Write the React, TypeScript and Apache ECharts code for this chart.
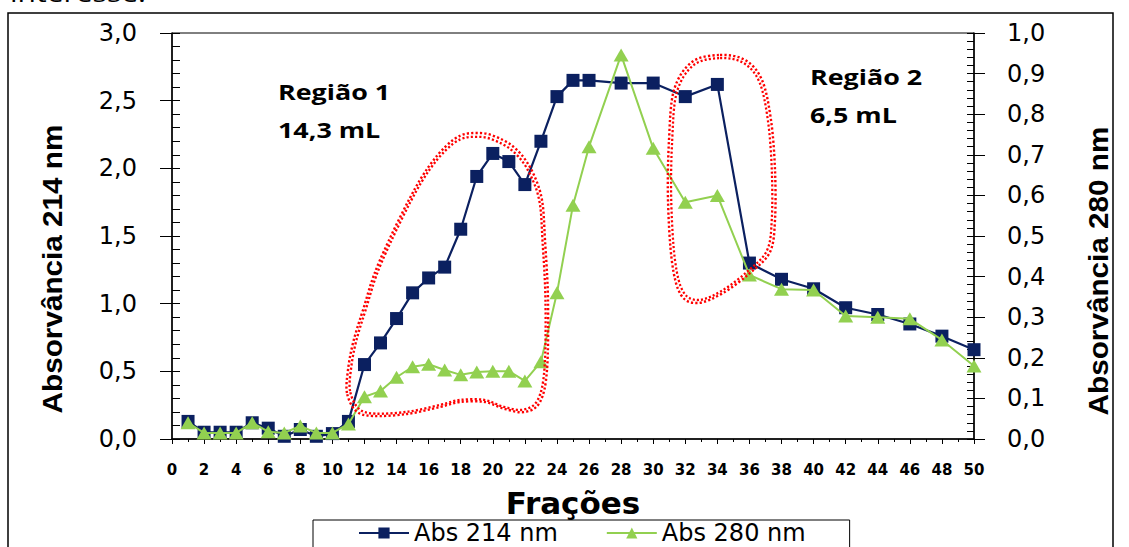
import React, { useEffect, useRef } from "react";
import * as echarts from "echarts";

// ---------- data ----------
const fractions = [
  1, 2, 3, 4, 5, 6, 7, 8, 9, 10, 11, 12, 13, 14, 15, 16, 17, 18, 19, 20, 21, 22, 23, 24, 25, 26,
  28, 30, 32, 34, 36, 38, 40, 42, 44, 46, 48, 50,
];
const abs214 = [
  0.13, 0.05, 0.05, 0.05, 0.12, 0.08, 0.02, 0.07, 0.02, 0.04, 0.13, 0.55, 0.71, 0.89, 1.08, 1.19,
  1.27, 1.55, 1.94, 2.11, 2.05, 1.88, 2.2, 2.53, 2.65, 2.65, 2.63, 2.63, 2.53, 2.62, 1.3, 1.18,
  1.11, 0.97, 0.92, 0.85, 0.76, 0.66,
];
const abs280 = [
  0.04, 0.015, 0.015, 0.015, 0.04, 0.018, 0.015, 0.032, 0.015, 0.015, 0.037, 0.104, 0.118, 0.152,
  0.178, 0.184, 0.17, 0.158, 0.165, 0.167, 0.167, 0.143, 0.19, 0.36, 0.576, 0.72, 0.946, 0.716,
  0.583, 0.6, 0.404, 0.369, 0.367, 0.303, 0.3, 0.296, 0.244, 0.18,
];
const seriesNames = ["Abs 214 nm", "Abs 280 nm"];
const leftTicks = { min: 0, max: 3, interval: 0.5 };
const rightTicks = { min: 0, max: 1, interval: 0.1 };
const xTicks = { min: 0, max: 50, interval: 2 };

// ---------- annotation outlines (pixel space) ----------
const region1Outline: [number, number][] = [
  [347, 393], [348, 370], [353, 343], [363, 310], [380, 260], [420, 180], [453, 140], [480, 133],
  [503, 140], [520, 153], [533, 173], [542, 200], [545, 240], [548, 300], [547, 370], [540, 402],
  [525, 412], [505, 409], [485, 402], [460, 402], [440, 407], [407, 414], [373, 416], [356, 411],
];
const region2Outline: [number, number][] = [
  [720, 55], [745, 60], [762, 80], [771, 120], [775, 170], [775, 220], [770, 252], [750, 273],
  [723, 293], [698, 303], [681, 295], [672, 262], [668, 200], [669, 140], [674, 90], [692, 62],
];

function centroid(pts: [number, number][]) {
  let sx = 0, sy = 0;
  pts.forEach(([x, y]) => { sx += x; sy += y; });
  return [sx / pts.length, sy / pts.length];
}

function closedSpline(pts: [number, number][], cx: number, cy: number) {
  const n = pts.length;
  const p = pts.map(([x, y]) => [x - cx, y - cy]);
  let d = `M${p[0][0].toFixed(2)},${p[0][1].toFixed(2)}`;
  for (let i = 0; i < n; i++) {
    const p0 = p[(i - 1 + n) % n], p1 = p[i], p2 = p[(i + 1) % n], p3 = p[(i + 2) % n];
    const c1 = [p1[0] + (p2[0] - p0[0]) / 6, p1[1] + (p2[1] - p0[1]) / 6];
    const c2 = [p2[0] - (p3[0] - p1[0]) / 6, p2[1] - (p3[1] - p1[1]) / 6];
    d += ` C${c1[0].toFixed(2)},${c1[1].toFixed(2)} ${c2[0].toFixed(2)},${c2[1].toFixed(2)} ${p2[0].toFixed(2)},${p2[1].toFixed(2)}`;
  }
  return d + " Z";
}

const c1 = centroid(region1Outline);
const c2 = centroid(region2Outline);
let registered = false;
function registerShapes() {
  if (registered) return;
  registered = true;
  echarts.graphic.registerShape(
    "regionOne",
    echarts.graphic.extendPath(closedSpline(region1Outline, c1[0], c1[1]), {})
  );
  echarts.graphic.registerShape(
    "regionTwo",
    echarts.graphic.extendPath(closedSpline(region2Outline, c2[0], c2[1]), {})
  );
}

const commaFmt = (v: number) => v.toFixed(1).replace(".", ",");

export default function App() {
  const ref = useRef<HTMLDivElement>(null);
  useEffect(() => {
    if (!ref.current) return;
    registerShapes();
    const chart = echarts.init(ref.current, null, { renderer: "svg" });
    const dotted = {
      fill: "none",
      stroke: "#ff0000",
      lineWidth: 2.4,
      lineDash: [2.2, 2.2],
    };
    const wide = "DejaVu Sans";
    const arial = "Liberation Sans";
    const regionText = (text: string, x: number, y: number) => ({
      type: "text",
      x,
      y,
      scaleX: 1.28,
      style: {
        text,
        fontFamily: "Open Sans",
        fontWeight: "bold",
        fontSize: 21,
        fill: "#000",
        align: "left",
        verticalAlign: "middle",
      },
      z: 10,
    });
    const sideTitle = (text: string, x: number, y: number) => ({
      type: "text",
      x,
      y,
      rotation: Math.PI / 2,
      scaleX: 1.1,
      style: {
        text,
        fontFamily: arial,
        fontWeight: "bold",
        fontSize: 27,
        fill: "#000",
        align: "center",
        verticalAlign: "middle",
      },
      z: 10,
    });
    chart.setOption({
      animation: false,
      backgroundColor: "#ffffff",
      grid: {
        left: 172,
        right: 155,
        top: 33,
        bottom: 108,
        show: true,
        borderColor: "#000",
        borderWidth: 1,
      },
      legend: {
        data: seriesNames,
        left: 313,
        top: 520,
        orient: "horizontal",
        itemWidth: 50,
        itemHeight: 14,
        itemGap: 48,
        borderColor: "#000",
        borderWidth: 1,
        padding: [1, 44, 20, 45],
        textStyle: { fontFamily: wide, fontSize: 24, color: "#000" },
      },
      xAxis: {
        type: "value",
        min: xTicks.min,
        max: xTicks.max,
        interval: xTicks.interval,
        axisLine: { lineStyle: { color: "#000", width: 1.5 } },
        axisTick: { show: true, length: 5, lineStyle: { color: "#000" } },
        minorTick: { show: true, splitNumber: 2, length: 3, lineStyle: { color: "#000" } },
        splitLine: { show: false },
        axisLabel: {
          margin: 23,
          fontFamily: wide,
          fontWeight: "bold",
          fontSize: 15,
          color: "#000",
        },
      },
      yAxis: [
        {
          type: "value",
          position: "left",
          min: leftTicks.min,
          max: leftTicks.max,
          interval: leftTicks.interval,
          axisLine: { show: true, lineStyle: { color: "#000", width: 1.5 } },
          axisTick: { show: true, length: 12, lineStyle: { color: "#000" } },
          splitLine: { show: false },
          axisLabel: {
            margin: 35,
            formatter: commaFmt,
            fontFamily: wide,
            fontSize: 24,
            color: "#000",
          },
        },
        {
          type: "value",
          position: "right",
          min: rightTicks.min,
          max: rightTicks.max,
          interval: rightTicks.interval,
          axisLine: { show: true, lineStyle: { color: "#000", width: 1.5 } },
          axisTick: { show: true, length: 11, lineStyle: { color: "#000" } },
          splitLine: { show: false },
          axisLabel: {
            margin: 33,
            formatter: commaFmt,
            fontFamily: wide,
            fontSize: 24,
            color: "#000",
          },
        },
        {
          type: "value",
          position: "left",
          min: 0,
          max: 3,
          interval: 0.1,
          axisLine: { show: false },
          axisTick: { show: true, inside: true, length: 8, lineStyle: { color: "#000" } },
          axisLabel: { show: false },
          splitLine: { show: false },
        },
        {
          type: "value",
          position: "right",
          min: 0,
          max: 1,
          interval: 0.02,
          axisLine: { show: false },
          axisTick: { show: true, inside: true, length: 7, lineStyle: { color: "#000" } },
          axisLabel: { show: false },
          splitLine: { show: false },
        },
      ],
      series: [
        {
          name: seriesNames[0],
          type: "line",
          yAxisIndex: 0,
          data: fractions.map((f, i) => [f, abs214[i]]),
          symbol: "rect",
          symbolSize: 13,
          itemStyle: { color: "#0b2060" },
          lineStyle: { color: "#0b2060", width: 2.2 },
          z: 3,
        },
        {
          name: seriesNames[1],
          type: "line",
          yAxisIndex: 1,
          data: fractions.map((f, i) => [f, abs280[i]]),
          symbol: "triangle",
          symbolSize: [15, 13],
          itemStyle: { color: "#92d050" },
          lineStyle: { color: "#92d050", width: 2 },
          z: 4,
        },
      ],
      graphic: [
        {
          type: "rect",
          shape: { x: 8, y: 13, width: 1105, height: 560 },
          style: { fill: "none", stroke: "#000", lineWidth: 1.5 },
          z: 1,
          silent: true,
        },
        {
          type: "text",
          x: 10,
          y: -19,
          scaleX: 1.25,
          style: { text: "interesse.", fontFamily: "Open Sans", fontSize: 24, fill: "#000" },
          z: 1,
        },
        sideTitle("Absorvância 214 nm", 52, 269),
        sideTitle("Absorvância 280 nm", 1098, 271),
        {
          type: "text",
          x: 573,
          y: 503,
          style: {
            text: "Frações",
            fontFamily: wide,
            fontWeight: "bold",
            fontSize: 31,
            fill: "#000",
            align: "center",
            verticalAlign: "middle",
          },
          z: 10,
        },
        regionText("Região 1", 278, 92),
        regionText("14,3 mL", 278, 130),
        regionText("Região 2", 810, 77),
        regionText("6,5 mL", 810, 115),
        { type: "regionOne", x: c1[0], y: c1[1], style: dotted, z: 100, silent: true },
        {
          type: "regionOne",
          x: c1[0],
          y: c1[1],
          scaleX: 0.972,
          scaleY: 0.978,
          style: dotted,
          z: 100,
          silent: true,
        },
        { type: "regionTwo", x: c2[0], y: c2[1], style: dotted, z: 100, silent: true },
        {
          type: "regionTwo",
          x: c2[0],
          y: c2[1],
          scaleX: 0.94,
          scaleY: 0.975,
          style: dotted,
          z: 100,
          silent: true,
        },
      ],
    });
    return () => chart.dispose();
  }, []);
  return (
    <div
      ref={ref}
      style={{ position: "fixed", left: 0, top: 0, width: 1129, height: 547, background: "#fff" }}
    />
  );
}
